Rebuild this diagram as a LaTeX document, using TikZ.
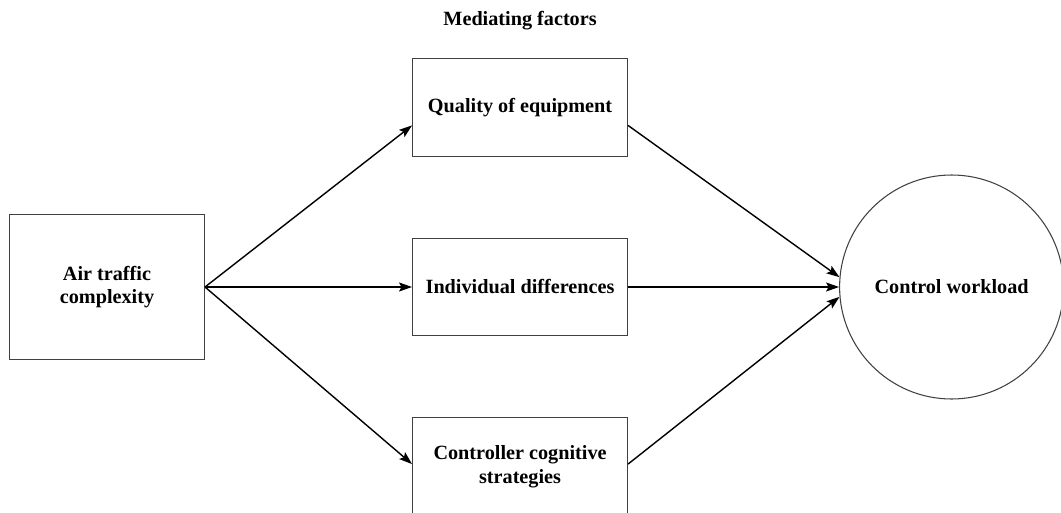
\documentclass[tikz,border=0pt]{standalone}
\usepackage{fontspec}
\setmainfont{Liberation Serif}
\usepackage{tikz}
\usetikzlibrary{shapes.geometric, arrows.meta, calc, positioning}
\tikzstyle{label} = [font=\bfseries\fontsize{11.5}{13.5}\selectfont, align=center]
\tikzstyle{block} = [rectangle, label, draw=black!75, line width=0.6pt, minimum width=4.3cm, minimum height=1.95cm, text centered]
\tikzstyle{source} = [block, minimum width=3.9cm, minimum height=2.9cm]
\tikzstyle{outcome} = [circle, label, draw=black!75, line width=0.6pt, minimum size=4.48cm]
\tikzstyle{arrow} = [line width=0.8pt,->,>={Stealth[length=2.6mm,width=1.8mm,inset=0.5mm]}]

\begin{document}
\begin{tikzpicture}[node distance = 10mm, auto]
		\useasboundingbox (-2.14,-4.5) rectangle (19.08,5.74);
		\node (Complexity) [source] {Air traffic\\ complexity};
		\node (Individual) [block, right = 4.14cm of Complexity] {Individual differences};
		\node (Quality) [block, above = 1.62cm of Individual] {Quality of equipment};
		\node (Strategies) [block, below = 1.62cm of Individual] {Controller cognitive\\ strategies};
		\node (Workload) [outcome, right = 4.22cm of Individual] {Control workload};
		\node (Mediating) [label, above = 0.45cm of Quality] {Mediating factors};

		\draw [arrow] (Complexity.east) -- ($(Quality.west)+(0,-0.36)$);
		\draw [arrow] (Complexity.east) -- (Individual.west);
		\draw [arrow] (Complexity.east) -- ($(Strategies.west)+(0,0.05)$);

		\draw [arrow] ($(Quality.east)+(0,-0.36)$) -- (Workload.175);
		\draw [arrow] (Individual.east) -- (Workload.west);
		\draw [arrow] ($(Strategies.east)+(0,0.05)$) -- (Workload.185);
\end{tikzpicture}
\end{document}
